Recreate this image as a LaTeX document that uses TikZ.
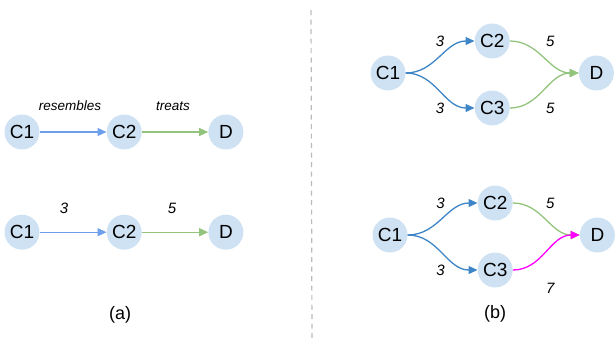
\documentclass[tikz,border=0pt]{standalone}
\usepackage{fontspec}
\setmainfont{Liberation Sans}
\usetikzlibrary{arrows.meta}
\definecolor{entfill}{HTML}{CFE2F3}
\definecolor{lightblue}{HTML}{6D9EEB}
\definecolor{darkblue}{HTML}{3D85C6}
\definecolor{relgreen}{HTML}{93C47D}
\definecolor{relpink}{HTML}{FF00FF}
\definecolor{sepgray}{HTML}{BBBBBB}
\tikzset{entity/.style={circle, fill=entfill, minimum size=35pt, inner sep=0pt, font=\fontsize{19}{22}\selectfont}}
\tikzset{rel/.style={text=black, font=\fontsize{13.5}{16}\selectfont\itshape}}
\tikzset{num/.style={text=black, font=\fontsize{15}{18}\selectfont\itshape}}
\tikzset{arr/.style={-{Triangle[length=9pt,width=8pt]}, line width=1.3pt}}
\tikzset{caption/.style={font=\fontsize{18}{21}\selectfont}}

\begin{document}
\begin{tikzpicture}[x=1pt,y=-1pt]
    \useasboundingbox (0,0) rectangle (615,341);

    % (a) left side
    \node[entity] at (22,132) (a1){C1};
    \node[entity] at ([xshift = 84.5pt]a1.east) (a2){C2};
    \node[entity] at ([xshift = 84pt]a2.east) (a3){D};

    \draw [arr, lightblue] (a1.east) -- node[rel, xshift = -3pt, yshift = 26pt]{resembles} (a2.west);
    \draw [arr, relgreen] (a2.east) -- node[rel, xshift = -2pt, yshift = 26pt]{treats} (a3.west);

    \node[entity] at ([yshift = -82.5pt]a1.south) (a4){C1};
    \node[entity] at ([xshift = 84.5pt]a4.east) (a5){C2};
    \node[entity] at ([xshift = 84pt]a5.east) (a6){D};

    \draw [arr, lightblue] (a4.east) -- node[num, xshift = -9pt, yshift = 24pt]{3} (a5.west);
    \draw [arr, relgreen] (a5.east) -- node[num, xshift = -3pt, yshift = 24pt]{5} (a6.west);

    \node[caption] at ([xshift = -4pt, yshift = -64.5pt]a5.south) {(a)};

    % separator
    \coordinate (s1) at (311,10);
    \coordinate (s2) at (312,341);
    \draw [sepgray, line width=1.2pt, dash pattern=on 5pt off 4.5pt] (s1) -- (s2);

    % (b) right side, top
    \node[entity] at (388,73) (b1){C1};
    \node[entity] at ([xshift = 86.5pt, yshift = 32pt]b1.east) (b2){C2};
    \node[entity] at ([xshift = 86.5pt, yshift = -35pt]b1.east) (b3){C3};
    \node[entity] at ([xshift = 86.5pt, yshift = -32pt]b2.east) (b4){D};

    \draw [arr, darkblue] (b1.east) to[out=0, in=180] node[num, yshift = 16pt]{3} (b2.west);
    \draw [arr, darkblue] (b1.east) to[out=0, in=180] node[num, yshift = -18pt]{3} (b3.west);
    \draw [arr, relgreen] (b2.east) to[out=0, in=180] node[num, xshift = 6pt, yshift = 16pt]{5} (b4.west);
    \draw [arr, relgreen] (b3.east) to[out=0, in=180] node[num, xshift = 6pt, yshift = -18pt]{5} (b4.west);

    % (b) right side, bottom
    \node[entity] at (390,235) (c1){C1};
    \node[entity] at ([xshift = 87.5pt, yshift = 32pt]c1.east) (c2){C2};
    \node[entity] at ([xshift = 87.5pt, yshift = -35pt]c1.east) (c3){C3};
    \node[entity] at ([xshift = 84.5pt, yshift = -32pt]c2.east) (c4){D};

    \draw [arr, darkblue] (c1.east) to[out=0, in=180] node[num, xshift = -2pt, yshift = 16pt]{3} (c2.west);
    \draw [arr, darkblue] (c1.east) to[out=0, in=180] node[num, xshift = -2pt, yshift = -18pt]{3} (c3.west);
    \draw [arr, relgreen] (c2.east) to[out=0, in=180] node[num, xshift = 4pt, yshift = 16pt]{5} (c4.west);
    \draw [arr, relpink] (c3.east) to[out=0, in=180] node[num, xshift = 4pt, yshift = -36pt]{7} (c4.west);

    \node[caption] at ([yshift = -26.5pt]c3.south) {(b)};
  \end{tikzpicture}
\end{document}
